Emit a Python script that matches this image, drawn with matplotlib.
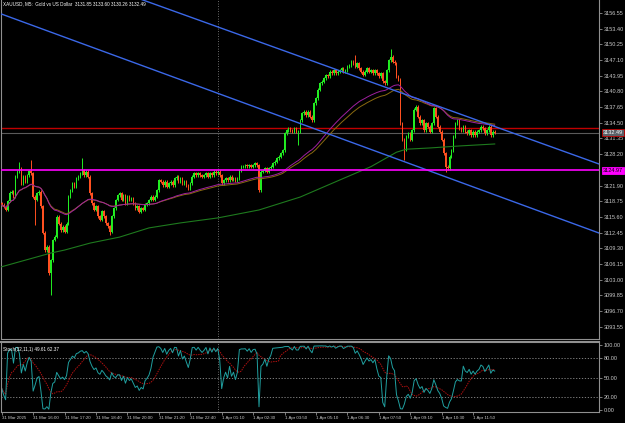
import numpy as np
import pandas as pd
import matplotlib
matplotlib.use("Agg")
import matplotlib.pyplot as plt

# M5 closes, one per bar (bar 0 = 31 Mar 14:40)
closes = [
    3118.0, 3117.6, 3117.0, 3118.8, 3120.5, 3120.7, 3119.8, 3123.7, 3124.7, 3125.4,
    3122.4, 3123.7, 3122.7, 3124.0, 3124.8, 3124.4, 3119.7, 3119.0, 3120.4, 3120.7,
    3117.7, 3112.4, 3108.95, 3109.6, 3104.3, 3106.95, 3110.97, 3111.6, 3115.6, 3114.2,
    3112.9, 3113.6, 3112.6, 3114.2, 3119.7, 3121.0, 3122.35, 3121.7, 3123.4, 3123.7,
    3124.4, 3125.0, 3124.0, 3124.7, 3123.7, 3120.35, 3118.35, 3117.0, 3117.7, 3115.7,
    3115.0, 3116.7, 3115.7, 3114.35, 3113.7, 3112.65, 3115.7, 3117.35, 3119.0, 3120.0,
    3120.35, 3119.0, 3120.0, 3118.35, 3119.7, 3119.0, 3119.35, 3118.35, 3117.35, 3117.7,
    3116.65, 3117.35, 3117.0, 3118.0, 3118.35, 3119.0, 3119.7, 3119.0, 3119.7, 3121.0,
    3123.0, 3122.7, 3122.0, 3122.7, 3121.7, 3122.35, 3122.7, 3122.0, 3123.35, 3123.7,
    3122.7, 3123.35, 3122.35, 3122.7, 3122.0, 3121.35, 3122.35, 3123.7, 3124.35, 3124.0,
    3124.35, 3124.0, 3123.7, 3124.0, 3124.35, 3123.7, 3124.35, 3124.0, 3124.7, 3124.35,
    3124.7, 3124.0, 3122.35, 3123.0, 3123.35, 3123.0, 3123.7, 3123.1, 3123.35, 3122.9,
    3123.35, 3125.0, 3125.7, 3125.7, 3126.0, 3125.8, 3126.0, 3125.7, 3126.0, 3126.35,
    3126.0, 3121.0, 3124.7, 3124.9, 3125.35, 3124.7, 3125.35, 3125.7, 3126.35, 3126.7,
    3127.35, 3127.7, 3128.35, 3129.0, 3132.4, 3133.05, 3133.4, 3133.05, 3132.7, 3133.4,
    3132.7, 3132.7, 3135.05, 3136.4, 3136.7, 3136.0, 3136.7, 3135.7, 3135.05, 3138.4,
    3139.4, 3141.1, 3142.4, 3142.75, 3143.45, 3144.1, 3143.8, 3144.8, 3144.45, 3145.1,
    3144.45, 3144.8, 3145.1, 3145.45, 3144.8, 3145.1, 3145.8, 3146.1, 3146.8, 3146.45,
    3145.8, 3146.45, 3145.45, 3144.8, 3144.1, 3144.8, 3145.45, 3144.8, 3145.1, 3144.45,
    3145.1, 3144.45, 3143.8, 3144.45, 3142.8, 3142.4, 3145.1, 3147.1, 3147.8, 3146.8,
    3146.45, 3143.8, 3143.1, 3134.4, 3131.05, 3129.04, 3131.7, 3132.4, 3131.05, 3133.05,
    3137.1, 3137.75, 3135.7, 3134.4, 3135.05, 3133.05, 3134.4, 3133.7, 3132.7, 3134.4,
    3137.4, 3135.7, 3133.7, 3132.7, 3131.05, 3128.4, 3125.7, 3125.35, 3127.7, 3129.0,
    3131.7, 3134.4, 3135.05, 3133.4, 3133.05, 3133.7, 3132.7, 3132.4, 3133.05, 3132.05,
    3132.7, 3132.05, 3132.7, 3133.05, 3133.7, 3133.4, 3132.4, 3133.05, 3133.7, 3132.05,
    3132.7, 3132.49,
]
first_open = 3118.3

# long wicks that stick out
high_spikes = {9: 3126.7, 15: 3127.0, 41: 3127.4, 180: 3148.1, 198: 3149.3}
low_spikes = {17: 3114.0, 25: 3099.9, 55: 3112.0, 151: 3130.0, 205: 3127.0, 226: 3124.7}

# slow moving average (green), read at a few bars
green_ma_bars = [0, 25, 32, 45, 60, 75, 91, 110, 131, 152, 172, 188, 201, 206, 218, 233, 251]
green_ma_vals = [3105.6, 3108.35, 3108.95, 3110.35, 3111.55, 3113.4, 3114.4, 3115.4, 3117.0,
                 3119.6, 3123.0, 3125.7, 3128.6, 3129.2, 3129.45, 3129.85, 3130.25]

# channel lines (bar, price) at the two edges
upper_channel = [(-0.87, 3169.48), (304.1, 3126.23)]
lower_channel = [(-0.87, 3156.45), (304.1, 3112.37)]

pink_level = 3124.97
red_level = 3133.52
day_sep_bar = 110.1

price_ticks = [3156.55, 3153.40, 3150.25, 3147.10, 3143.95, 3140.80, 3137.65, 3134.50,
               3131.35, 3128.20, 3121.90, 3118.75, 3115.60, 3112.45, 3109.30, 3106.15,
               3103.00, 3099.85, 3096.70, 3093.55]
time_labels = ["31 Mar 2025", "31 Mar 16:00", "31 Mar 17:20", "31 Mar 18:40", "31 Mar 20:00",
               "31 Mar 21:20", "31 Mar 22:40", "1 Apr 01:10", "1 Apr 02:30", "1 Apr 03:50",
               "1 Apr 05:10", "1 Apr 06:30", "1 Apr 07:50", "1 Apr 09:10", "1 Apr 10:30",
               "1 Apr 11:50"]
stoch_ticks = [100, 80, 50, 20, 0]

# --- build candles
c = np.array(closes)
o = np.concatenate([[first_open], c[:-1]])
h = np.maximum(o, c) + 0.3
l = np.minimum(o, c) - 0.3
for k, v in high_spikes.items():
    h[k] = v
for k, v in low_spikes.items():
    l[k] = v
idx = np.arange(len(c))

s = pd.Series(c)
ma_purple = s.ewm(span=50).mean()
ma_brown = s.ewm(span=58).mean()

hh = pd.Series(h).rolling(32, min_periods=1).max()
ll = pd.Series(l).rolling(32, min_periods=1).min()
stoch_k = 100 * (s - ll) / (hh - ll)
stoch_d = stoch_k.rolling(11, min_periods=1).mean()

fg = '#c8c8c8'
frame = '#909090'
plt.rcParams['font.family'] = ['Liberation Sans', 'DejaVu Sans']

fig = plt.figure(figsize=(6.25, 4.23), dpi=100, facecolor='black')
W, H = 625, 423
ax = fig.add_axes([1 / W, (H - 339) / H, 598 / W, 339 / H], facecolor='black')
ax2 = fig.add_axes([1 / W, (H - 412) / H, 598 / W, 70 / H], facecolor='black')

up = c >= o
col = np.where(up, '#22ee22', '#ff5020')
ax.vlines(idx, l, h, colors=col, linewidth=0.7, zorder=3)
ax.bar(idx, np.maximum(np.abs(c - o), 0.12), bottom=np.minimum(o, c), width=0.75,
       color=col, linewidth=0, zorder=3)

ax.plot(idx, ma_brown, color='#8a6a10', lw=0.7, zorder=4)
ax.plot(idx, ma_purple, color='#a020a0', lw=0.7, zorder=4)
ax.plot(green_ma_bars, green_ma_vals, color='#1e7a1e', lw=0.8, zorder=4)

for line in (upper_channel, lower_channel):
    ax.plot([p[0] for p in line], [p[1] for p in line], color='#3b68e8', lw=1.0, zorder=5)

ax.axhline(red_level, color='#c00000', lw=1.0, zorder=2)
ax.axhline(c[-1], color='#5a5a5a', lw=0.8, zorder=2)
ax.axhline(pink_level, color='#ff00ff', lw=1.2, zorder=5)
ax.axvline(day_sep_bar, color=frame, lw=0.6, ls=(0, (1, 2)), zorder=1)

ax.set_xlim(-0.36, 304.1)
ax.set_ylim(3091.09, 3159.16)
ax.yaxis.tick_right()
ax.set_yticks(price_ticks)
ax.set_yticklabels([f"{v:.2f}" for v in price_ticks])
ax.tick_params(axis='y', colors=frame, labelcolor=fg, labelsize=4, length=2, width=0.6, pad=1.5)
ax.set_xticks([])
for sp in ax.spines.values():
    sp.set_color(frame)
    sp.set_linewidth(0.8)
ax.spines['top'].set_visible(False)

ax.annotate(f"{c[-1]:.2f}", xy=(1.0, c[-1]), xycoords=('axes fraction', 'data'),
            xytext=(3, 0), textcoords='offset points', ha='left', va='center',
            fontsize=4, color='white', zorder=10, annotation_clip=False,
            bbox=dict(boxstyle='square,pad=0.2', fc='#5a6068', ec='#c00000', lw=0.6))
ax.annotate(f"{pink_level:.2f}", xy=(1.0, pink_level), xycoords=('axes fraction', 'data'),
            xytext=(3, 0), textcoords='offset points', ha='left', va='center',
            fontsize=4, color='black', zorder=10, annotation_clip=False,
            bbox=dict(boxstyle='square,pad=0.2', fc='#ff00ff', ec='#ff00ff', lw=0.6))

ax.text(0.004, 0.995, "XAUUSD, M5:  Gold vs US Dollar  3131.85 3133.60 3130.26 3132.49",
        transform=ax.transAxes, ha='left', va='top', fontsize=3.3, color='white')

# --- stochastic window
for lev in (80, 50, 20):
    ax2.axhline(lev, color=frame, lw=0.6, ls=(0, (1.5, 2)))
ax2.axvline(day_sep_bar, color=frame, lw=0.6, ls=(0, (1, 2)))
ax2.plot(idx, stoch_d, color='#b01010', lw=0.7, ls=(0, (1.5, 1)))
ax2.plot(idx, stoch_k, color='#20a0a0', lw=0.7)
ax2.set_xlim(-0.36, 304.1)
ax2.set_ylim(-3, 104.6)
ax2.yaxis.tick_right()
ax2.set_yticks(stoch_ticks)
ax2.set_yticklabels([f"{v:.2f}" for v in stoch_ticks])
ax2.tick_params(axis='y', colors=frame, labelcolor=fg, labelsize=4, length=2, width=0.6, pad=1.5)
ax2.set_xticks(np.arange(len(time_labels)) * 16)
ax2.set_xticklabels(time_labels)
ax2.tick_params(axis='x', colors=frame, labelcolor=fg, labelsize=3.2, length=2, width=0.6, pad=1)
for t in ax2.get_xticklabels():
    t.set_ha('left')
for sp in ax2.spines.values():
    sp.set_color(frame)
    sp.set_linewidth(0.8)
ax2.spines['top'].set_linewidth(1.5)
ax2.text(0.004, 0.93, "Stoch(32,11,1) 49.61 62.37", transform=ax2.transAxes,
         ha='left', va='top', fontsize=3.3, color='white')

fig.savefig("out.png", dpi=100, facecolor='black')
